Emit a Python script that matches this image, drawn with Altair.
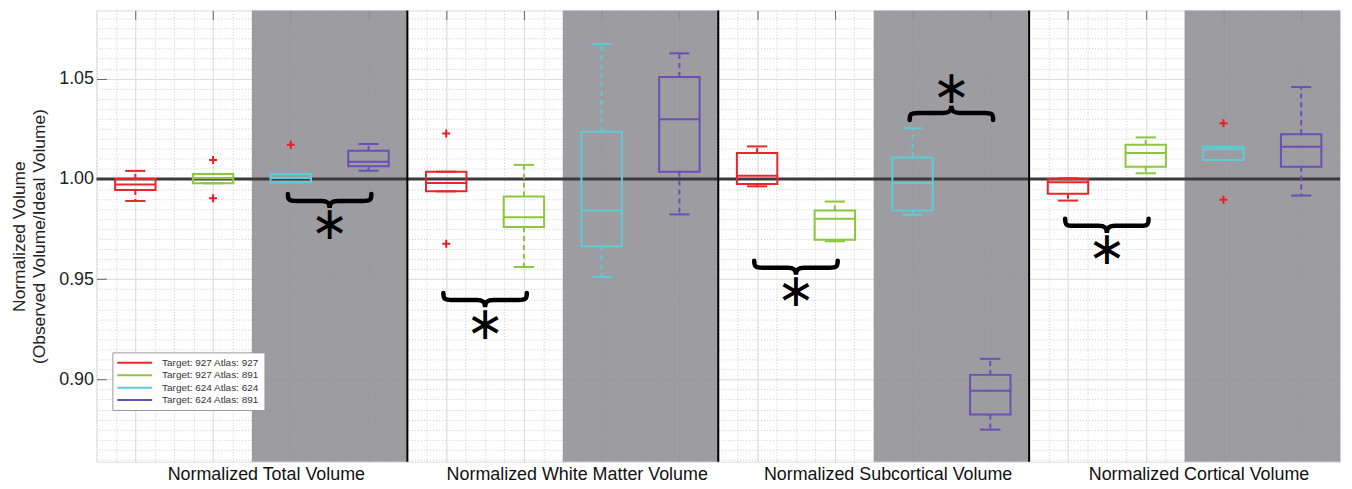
import altair as alt
import pandas as pd

groups = ["Normalized Total Volume", "Normalized White Matter Volume",
          "Normalized Subcortical Volume", "Normalized Cortical Volume"]
series = ["Target: 927 Atlas: 927", "Target: 927 Atlas: 891",
          "Target: 624 Atlas: 624", "Target: 624 Atlas: 891"]
colors = ["#e8262b", "#8cc63f", "#5dcbd8", "#6a4fb8"]

# box statistics, 16 boxes (group-major, series-minor)
wlo = [0.9890, 0.9978, 0.9983, 1.0041, 0.9938, 0.9561, 0.9511, 0.9823,
       0.9963, 0.9689, 0.9821, 0.8750, 0.9892, 1.0028, 1.0094, 0.9917]
q1 = [0.9945, 0.9978, 0.9983, 1.0063, 0.9938, 0.9760, 0.9664, 1.0036,
      0.9975, 0.9697, 0.9843, 0.8825, 0.9926, 1.0061, 1.0094, 1.0061]
med = [0.9972, 1.0003, 1.0005, 1.0085, 0.9980, 0.9809, 0.9843, 1.0298,
       1.0016, 0.9801, 0.9980, 0.8944, 0.9983, 1.0129, 1.0148, 1.0160]
q3 = [1.0000, 1.0025, 1.0025, 1.0140, 1.0036, 0.9912, 1.0235, 1.0508,
      1.0129, 0.9843, 1.0107, 0.9023, 0.9998, 1.0170, 1.0160, 1.0223]
whi = [1.0040, 1.0025, 1.0025, 1.0174, 1.0036, 1.0070, 1.0673, 1.0626,
       1.0162, 0.9887, 1.0253, 0.9103, 1.0003, 1.0207, 1.0160, 1.0458]

outlier_box = [1, 1, 2, 4, 4, 14, 14]
outlier_val = [1.0094, 0.9904, 1.0170, 1.0226, 0.9677, 1.0278, 0.9896]

brace_pair = [(2, 3), (4, 5), (8, 9), (10, 11), (12, 13)]
brace_y = [0.9890, 0.9396, 0.9557, 1.0329, 0.9766]
brace_dir = ["down", "down", "down", "up", "down"]
star_y = [0.9768, 0.9272, 0.9437, 1.0447, 0.9644]
star_text = ["∗"] * 5

ref_value = [1.0]
y_major = [0.90, 0.95, 1.00, 1.05]

NS = len(series)
NB = len(groups) * NS
HALF_BOX = 0.26
HALF_CAP = 0.13

boxes = pd.DataFrame({
    "idx": list(range(NB)),
    "series": [series[i % NS] for i in range(NB)],
    "wlo": wlo, "q1": q1, "med": med, "q3": q3, "whi": whi,
})
boxes["pos"] = boxes["idx"] + 0.5
boxes["boxL"] = boxes["pos"] - HALF_BOX
boxes["boxR"] = boxes["pos"] + HALF_BOX
boxes["capL"] = boxes["pos"] - HALF_CAP
boxes["capR"] = boxes["pos"] + HALF_CAP

wrows = []
crows = []
for _, r in boxes.iterrows():
    if r["whi"] > r["q3"]:
        wrows.append({"pos": r["pos"], "series": r["series"], "a": r["q3"], "b": r["whi"]})
    if r["wlo"] < r["q1"]:
        wrows.append({"pos": r["pos"], "series": r["series"], "a": r["q1"], "b": r["wlo"]})
    for v in (r["wlo"], r["whi"]):
        crows.append({"capL": r["capL"], "capR": r["capR"], "series": r["series"], "v": v})
whiskers = pd.DataFrame(wrows)
caps = pd.DataFrame(crows)

outliers = pd.DataFrame({"pos": [b + 0.5 for b in outlier_box], "v": outlier_val})

bands = pd.DataFrame({"s": [g * NS + NS / 2 for g in range(len(groups))],
                      "e": [(g + 1) * NS for g in range(len(groups))]})
seps = pd.DataFrame({"x": [(g + 1) * NS for g in range(len(groups) - 1)]})
ref = pd.DataFrame({"v": ref_value})

ann = pd.DataFrame({
    "x": [(a + b + 1) / 2 for a, b in brace_pair],
    "by": brace_y, "dir": brace_dir, "sy": star_y, "t": star_text,
})

xs = alt.Scale(domain=[0, NB], nice=False, zero=False)
ys = alt.Scale(domain=[0.859, 1.084], nice=False, zero=False)
FONT = "Liberation Sans"

label_expr = " : ".join(
    f"datum.value == {g * NS + NS / 2:g} ? '{name}'" for g, name in enumerate(groups)
) + " : ''"

x_minor_axis = alt.Axis(orient="bottom", values=[k * 0.25 for k in range(NB * 4 + 1)],
                        grid=True, gridDash=[1, 2], gridColor="#cccccc", gridWidth=1,
                        ticks=False, domain=False, labelExpr=label_expr,
                        labelFontSize=18, labelFont=FONT, labelColor="#111",
                        labelPadding=4, labelOverlap=False, labelFlush=False,
                        labelLimit=0, labelOffset=14, title=None)
x_major_axis = alt.Axis(orient="top", values=[i + 0.5 for i in range(NB)],
                        grid=True, gridColor="#dddddd", ticks=True, tickSize=9,
                        offset=-9, tickColor="#666666", labels=False, domain=False,
                        title=None)
y_major_axis = alt.Axis(orient="left", values=y_major, format=".2f", grid=True,
                        gridColor="#dddddd", tickSize=10, offset=-10, tickColor="#666666",
                        labelPadding=3, labelFontSize=18, labelFont=FONT, labelColor="#222",
                        domain=False,
                        title=["Normalized Volume", "(Observed Volume/Ideal Volume)"],
                        titleFontSize=17.5, titleFont=FONT, titleFontWeight="normal",
                        titleColor="#222", titlePadding=10, titleLineHeight=20)
y_minor_axis = alt.Axis(orient="right",
                        values=[round(0.86 + 0.005 * k, 3) for k in range(45)],
                        grid=True, gridDash=[1, 2], gridColor="#cccccc", ticks=False,
                        labels=False, domain=False, title=None)

color_enc = alt.Color("series:N", scale=alt.Scale(domain=series, range=colors),
                      legend=alt.Legend(orient="none", legendX=16, legendY=344, title=None,
                                        symbolType="M -4 0 L 4 0", symbolSize=76.6,
                                        symbolStrokeWidth=2, symbolOffset=12,
                                        labelOffset=22, labelFontSize=10,
                                        labelFont=FONT, labelColor="#333", padding=5,
                                        strokeColor="#999999", fillColor="white",
                                        rowPadding=1.5, cornerRadius=0))

band_layer = alt.Chart(bands).mark_rect(color="#919197", opacity=0.9).encode(
    x=alt.X("s:Q", scale=xs, axis=x_minor_axis), x2="e:Q")

ref_layer = alt.Chart(ref).mark_rule(color="#3a3a3a", strokeWidth=3).encode(
    y=alt.Y("v:Q", scale=ys, axis=None))

sep_layer = alt.Chart(seps).mark_rule(color="black", strokeWidth=2).encode(
    x=alt.X("x:Q", scale=xs, axis=None))

whisker_layer = alt.Chart(whiskers).mark_rule(strokeDash=[5, 4], strokeWidth=2).encode(
    x=alt.X("pos:Q", scale=xs, axis=None),
    y=alt.Y("a:Q", scale=ys, axis=y_minor_axis), y2="b:Q", color=color_enc)

cap_layer = alt.Chart(caps).mark_rule(strokeWidth=2).encode(
    x=alt.X("capL:Q", scale=xs, axis=None), x2="capR:Q",
    y=alt.Y("v:Q", scale=ys, axis=None), color=color_enc)

box_layer = alt.Chart(boxes).mark_rect(filled=False, strokeWidth=2).encode(
    x=alt.X("boxL:Q", scale=xs, axis=x_major_axis), x2="boxR:Q",
    y=alt.Y("q1:Q", scale=ys, axis=y_major_axis), y2="q3:Q", color=color_enc)

med_layer = alt.Chart(boxes).mark_rule(strokeWidth=2).encode(
    x=alt.X("boxL:Q", scale=xs, axis=None), x2="boxR:Q",
    y=alt.Y("med:Q", scale=ys, axis=None), color=color_enc)

out_layer = alt.Chart(outliers).mark_point(
    shape="M -1 0 L 1 0 M 0 -1 L 0 1", size=64, filled=False, strokeWidth=2,
    color="#ee1c25", opacity=1).encode(
    x=alt.X("pos:Q", scale=xs, axis=None), y=alt.Y("v:Q", scale=ys, axis=None))

BRACE_DOWN = ("M -1 -0.17 C -1 -0.02 -0.96 0 -0.8 0 L -0.2 0 C -0.06 0 0 0.04 0 0.17 "
              "C 0 0.04 0.06 0 0.2 0 L 0.8 0 C 0.96 0 1 -0.02 1 -0.17")
BRACE_UP = ("M -1 0.17 C -1 0.02 -0.96 0 -0.8 0 L -0.2 0 C -0.06 0 0 -0.04 0 -0.17 "
            "C 0 -0.04 0.06 0 0.2 0 L 0.8 0 C 0.96 0 1 0.02 1 0.17")

brace_layer = alt.Chart(ann).mark_point(filled=False, strokeWidth=4.5, color="black",
                                        opacity=1, size=7056, strokeCap="round").encode(
    x=alt.X("x:Q", scale=xs, axis=None), y=alt.Y("by:Q", scale=ys, axis=None),
    shape=alt.Shape("dir:N", scale=alt.Scale(domain=["down", "up"],
                                             range=[BRACE_DOWN, BRACE_UP]), legend=None))

star_layer = alt.Chart(ann).mark_text(fontSize=46, font="DejaVu Sans", color="black",
                                      baseline="middle").encode(
    x=alt.X("x:Q", scale=xs, axis=None), y=alt.Y("sy:Q", scale=ys, axis=None), text="t:N")

chart = alt.layer(band_layer, ref_layer, sep_layer, whisker_layer, cap_layer, box_layer,
                  med_layer, out_layer, brace_layer, star_layer).resolve_axis(
    x="independent", y="independent").properties(
    width=1251, height=454, autosize="none",
    padding={"left": 89, "top": 1, "right": 4, "bottom": 26},
).configure_view(stroke="#8a8a8a", strokeWidth=1).configure(background="white")

chart.save("out.html", embed_options={"renderer": "svg", "actions": False})
